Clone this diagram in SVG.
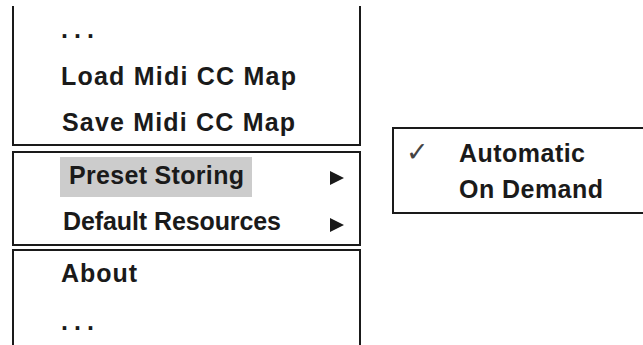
<svg xmlns="http://www.w3.org/2000/svg" width="643" height="345" viewBox="0 0 643 345">
  <style>
    .frame { fill: none; stroke: #1a1a1a; stroke-width: 2; }
    .item { font-family: "Liberation Sans", Arial, sans-serif; font-weight: bold; font-size: 25px; fill: #1a1a1a; }
    .arrow { fill: #1a1a1a; }
    .hl { fill: #cccccc; }
    .check { font-family: "DejaVu Sans", sans-serif; font-size: 27px; fill: #444444; }
  </style>
  <rect width="643" height="345" fill="#ffffff"/>

  <!-- main menu, first section (continues above) -->
  <g id="section-files">
    <path class="frame" d="M13,6 V145 H360 V6"/>
    <text class="item" x="61" y="38" textLength="33" lengthAdjust="spacing">. . .</text>
    <text class="item" x="61" y="85" textLength="235" lengthAdjust="spacing">Load Midi CC Map</text>
    <text class="item" x="62" y="131" textLength="233" lengthAdjust="spacing">Save Midi CC Map</text>
  </g>

  <!-- main menu, submenu section -->
  <g id="section-submenus">
    <rect class="frame" x="13" y="152" width="347" height="93"/>
    <rect class="hl" x="60" y="157" width="192" height="40"/>
    <text class="item" x="69" y="184" textLength="175" lengthAdjust="spacing">Preset Storing</text>
    <polygon class="arrow" points="330,171 344,178 330,185"/>
    <text class="item" x="63" y="230" textLength="218" lengthAdjust="spacing">Default Resources</text>
    <polygon class="arrow" points="330,218 344,225 330,232"/>
  </g>

  <!-- main menu, last section (continues below) -->
  <g id="section-about">
    <path class="frame" d="M13,345 V250 H360 V345"/>
    <text class="item" x="61" y="282" textLength="76" lengthAdjust="spacing">About</text>
    <text class="item" x="61" y="330" textLength="33" lengthAdjust="spacing">. . .</text>
  </g>

  <!-- preset storing submenu -->
  <g id="submenu-preset">
    <rect class="frame" x="393" y="128" width="260" height="85"/>
    <text class="check" x="406" y="161">✓</text>
    <text class="item" x="459" y="162" textLength="126" lengthAdjust="spacing">Automatic</text>
    <text class="item" x="459" y="198" textLength="144" lengthAdjust="spacing">On Demand</text>
  </g>
</svg>
